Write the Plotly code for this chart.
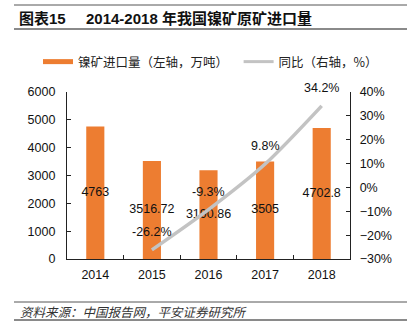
import plotly.graph_objects as go

years = ["2014", "2015", "2016", "2017", "2018"]
imports = [4763, 3516.72, 3190.86, 3505, 4702.8]
import_labels = ["4763", "3516.72", "3190.86", "3505", "4702.8"]
yoy_years = ["2015", "2016", "2017", "2018"]
yoy = [-26.2, -9.3, 9.8, 34.2]
yoy_labels = ["-26.2%", "-9.3%", "9.8%", "34.2%"]

FONT = "Liberation Sans, Arial, Noto Sans CJK SC, sans-serif"
CJK = "Noto Sans CJK SC, Liberation Sans, sans-serif"
ORANGE = "#ED7D31"
GRAY = "#C3C3C3"

W, H = 407, 331
L, R, T, B = 67, 57, 92, 72
PW, PH = W - L - R, H - T - B


def px(x):
    return (x - L) / PW


def py(y):
    return (H - B - y) / PH


fig = go.Figure()

fig.add_trace(go.Bar(
    x=years, y=imports, marker=dict(color=ORANGE, line=dict(width=0)),
    width=0.32, showlegend=False, yaxis="y", hoverinfo="skip",
))
fig.add_trace(go.Scatter(
    x=years, y=[v / 2 for v in imports], mode="text", text=import_labels,
    textposition="middle center", textfont=dict(family=FONT, size=12.5, color="#111"),
    showlegend=False, yaxis="y", hoverinfo="skip",
))
fig.add_trace(go.Scatter(
    x=yoy_years, y=yoy, mode="lines",
    line=dict(color=GRAY, width=3.5, shape="spline", smoothing=0.8),
    yaxis="y2", showlegend=False, hoverinfo="skip",
))
for xv, yv, lab in zip(yoy_years, yoy, yoy_labels):
    fig.add_annotation(x=years.index(xv), y=yv, xref="x", yref="y2", text=lab,
                       showarrow=False, yshift=18,
                       font=dict(family=FONT, size=12.5, color="#111"))

# legend entries
fig.add_trace(go.Scatter(
    x=[None], y=[None], mode="lines", line=dict(color=ORANGE, width=5),
    name="镍矿进口量（左轴，万吨）\u00a0\u00a0", yaxis="y",
))
fig.add_trace(go.Scatter(
    x=[None], y=[None], mode="lines", line=dict(color=GRAY, width=3),
    name="同比（右轴，%）", yaxis="y2",
))

axis_common = dict(
    showgrid=False, zeroline=False, showline=True, linecolor="#222", linewidth=1.3,
    ticks="inside", ticklen=4, tickcolor="#222", tickwidth=1.3,
    tickfont=dict(family=FONT, size=12.5, color="#111"),
)

fig.update_layout(
    width=W, height=H, margin=dict(l=L, r=R, t=T, b=B),
    paper_bgcolor="white", plot_bgcolor="white",
    xaxis=dict(**axis_common, type="category", tickson="boundaries",
               range=[-0.5, 4.5], ticklabelstandoff=4),
    yaxis=dict(**axis_common, range=[0, 6000], dtick=1000, ticklabelstandoff=8),
    yaxis2=dict(**axis_common, range=[-30, 40], dtick=10, ticksuffix="%",
                overlaying="y", side="right", ticklabelstandoff=6),
    legend=dict(orientation="h", x=px(38), y=py(62), xanchor="left", yanchor="middle",
                font=dict(family=CJK, size=12.5, color="#222"), bgcolor="rgba(0,0,0,0)",
                itemwidth=30, tracegroupgap=0),
    showlegend=True,
)

# title and footer rules
for yy, col, wd in [(5, "#555", 1), (29, "#8a8a8a", 2), (302, "#555", 1), (320, "#8a8a8a", 2)]:
    fig.add_shape(type="line", xref="paper", yref="paper", x0=px(14), x1=px(407),
                  y0=py(yy), y1=py(yy), line=dict(color=col, width=wd))

fig.add_annotation(xref="paper", yref="paper", x=px(17), y=py(18), xanchor="left",
                   yanchor="middle", showarrow=False, text="<b>图表15</b>",
                   font=dict(family="Liberation Sans, Noto Sans CJK SC", size=15, color="#111"))
fig.add_annotation(xref="paper", yref="paper", x=px(84), y=py(18), xanchor="left",
                   yanchor="middle", showarrow=False, text="<b>2014-2018 年我国镍矿原矿进口量</b>",
                   font=dict(family="Liberation Sans, Noto Sans CJK SC", size=15, color="#111"))
fig.add_annotation(xref="paper", yref="paper", x=px(18), y=py(311), xanchor="left",
                   yanchor="middle", showarrow=False,
                   text="<i>资料来源：中国报告网，平安证券研究所</i>",
                   font=dict(family=CJK, size=12.5, color="#333"))

fig.write_html("out.html")
